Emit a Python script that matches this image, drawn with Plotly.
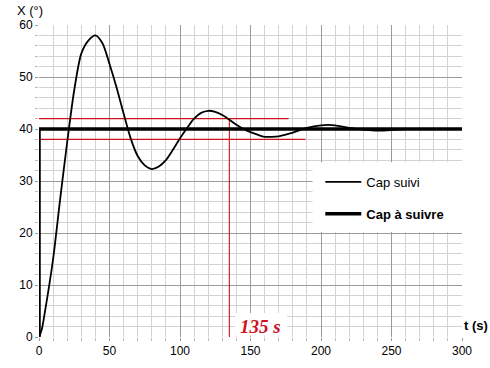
import plotly.graph_objects as go

# Data
t_suivi = [0, 2, 4, 10, 15, 20, 25, 30, 35, 40, 45, 50, 55, 60, 65, 70, 75, 80, 85, 90,
           95, 100, 105, 110, 115, 120, 125, 130, 135, 140, 145, 150, 155, 160, 165, 170,
           175, 180, 185, 190, 200, 205, 210, 220, 230, 240, 250, 260, 280, 300]
x_suivi = [0, 1.5, 4.5, 15, 26.5, 37.5, 47.5, 54.5, 57, 58, 56.5, 52.5, 48, 43, 38.2, 34.8,
           33, 32.3, 32.8, 34, 36, 38.2, 40.2, 42, 43.1, 43.5, 43.3, 42.7, 41.8, 40.8, 40,
           39.4, 38.9, 38.5, 38.5, 38.6, 38.9, 39.3, 39.8, 40.2, 40.7, 40.8, 40.7, 40.2,
           39.9, 39.7, 39.8, 40, 40, 40]

t_consigne = [0, 0, 300]
x_consigne = [0, 40, 40]

band_high = 42
band_low = 38
band_high_end = 177
band_low_end = 189
t_reponse = 135
label_reponse = "135 s"

x_ticks = [0, 50, 100, 150, 200, 250, 300]
y_ticks = [0, 10, 20, 30, 40, 50, 60]

RED = "#d0101c"
FONT = "Arial, Liberation Sans, sans-serif"

fig = go.Figure()

# red tolerance lines
fig.add_trace(go.Scatter(x=[0, band_high_end], y=[band_high, band_high], mode="lines",
                         line=dict(color=RED, width=1.1), showlegend=False, hoverinfo="skip"))
fig.add_trace(go.Scatter(x=[0, band_low_end], y=[band_low, band_low], mode="lines",
                         line=dict(color=RED, width=1.1), showlegend=False, hoverinfo="skip"))
fig.add_trace(go.Scatter(x=[t_reponse, t_reponse], y=[0, band_high], mode="lines",
                         line=dict(color=RED, width=1.1), showlegend=False, hoverinfo="skip"))

fig.add_trace(go.Scatter(x=t_consigne, y=x_consigne, mode="lines", name="<b>Cap à suivre</b>",
                         line=dict(color="black", width=3.5), legendgroup="b", legendrank=2))
fig.add_trace(go.Scatter(x=t_suivi, y=x_suivi, mode="lines", name="Cap suivi",
                         line=dict(color="black", width=1.8, shape="spline", smoothing=0.8),
                         legendgroup="a", legendrank=1))

# white boxes (legend background and label background)
fig.add_shape(type="rect", x0=194, x1=300, y0=20.2, y1=33.6, xref="x", yref="y",
              fillcolor="white", line=dict(width=0), layer="above")
fig.add_shape(type="rect", x0=139, x1=176, y0=0.3, y1=4.6, xref="x", yref="y",
              fillcolor="white", line=dict(width=0), layer="above")

fig.add_annotation(x=157, y=2.0, xref="x", yref="y", text="<b><i>" + label_reponse + "</i></b>",
                   showarrow=False, font=dict(family="Liberation Serif, Times New Roman, serif",
                                              size=19, color=RED))
fig.add_annotation(x=0, y=1, xref="paper", yref="paper", xshift=-9, yshift=15,
                   text="X (°)", showarrow=False, xanchor="center", yanchor="middle",
                   font=dict(family=FONT, size=13, color="black"))
fig.add_annotation(x=1, y=0, xref="paper", yref="paper", xshift=0, yshift=2,
                   text="<b>t (s)</b>", showarrow=False, xanchor="left", yanchor="bottom",
                   font=dict(family=FONT, size=13, color="black"))

axis_common = dict(showline=False, zeroline=False, ticks="outside", ticklen=3,
                   tickcolor="#999", tickfont=dict(family=FONT, size=12, color="black"),
                   gridcolor="#9a9a9a", gridwidth=1, automargin=False)

fig.update_xaxes(range=[0, 300], tickvals=x_ticks, **axis_common,
                 minor=dict(dtick=10, showgrid=True, gridcolor="#d2d2d2", gridwidth=1,
                            ticks="outside", ticklen=3, tickcolor="#bbb"))
fig.update_yaxes(range=[0, 60], tickvals=y_ticks, **axis_common,
                 minor=dict(dtick=2, showgrid=True, gridcolor="#d2d2d2", gridwidth=1,
                            ticks="outside", ticklen=3, tickcolor="#bbb"))

fig.update_layout(
    width=490, height=368,
    margin=dict(l=39, r=28, t=25, b=31),
    plot_bgcolor="white", paper_bgcolor="white",
    font=dict(family=FONT, size=13, color="black"),
    legend=dict(x=0.665, y=0.545, xanchor="left", yanchor="top", bgcolor="rgba(0,0,0,0)",
                traceorder="grouped", tracegroupgap=12, font=dict(family=FONT, size=13),
                itemwidth=36),
)

fig.write_html("out.html", config={"displayModeBar": False},
               post_script="document.body.style.margin='0px';document.body.style.overflow='hidden';")
